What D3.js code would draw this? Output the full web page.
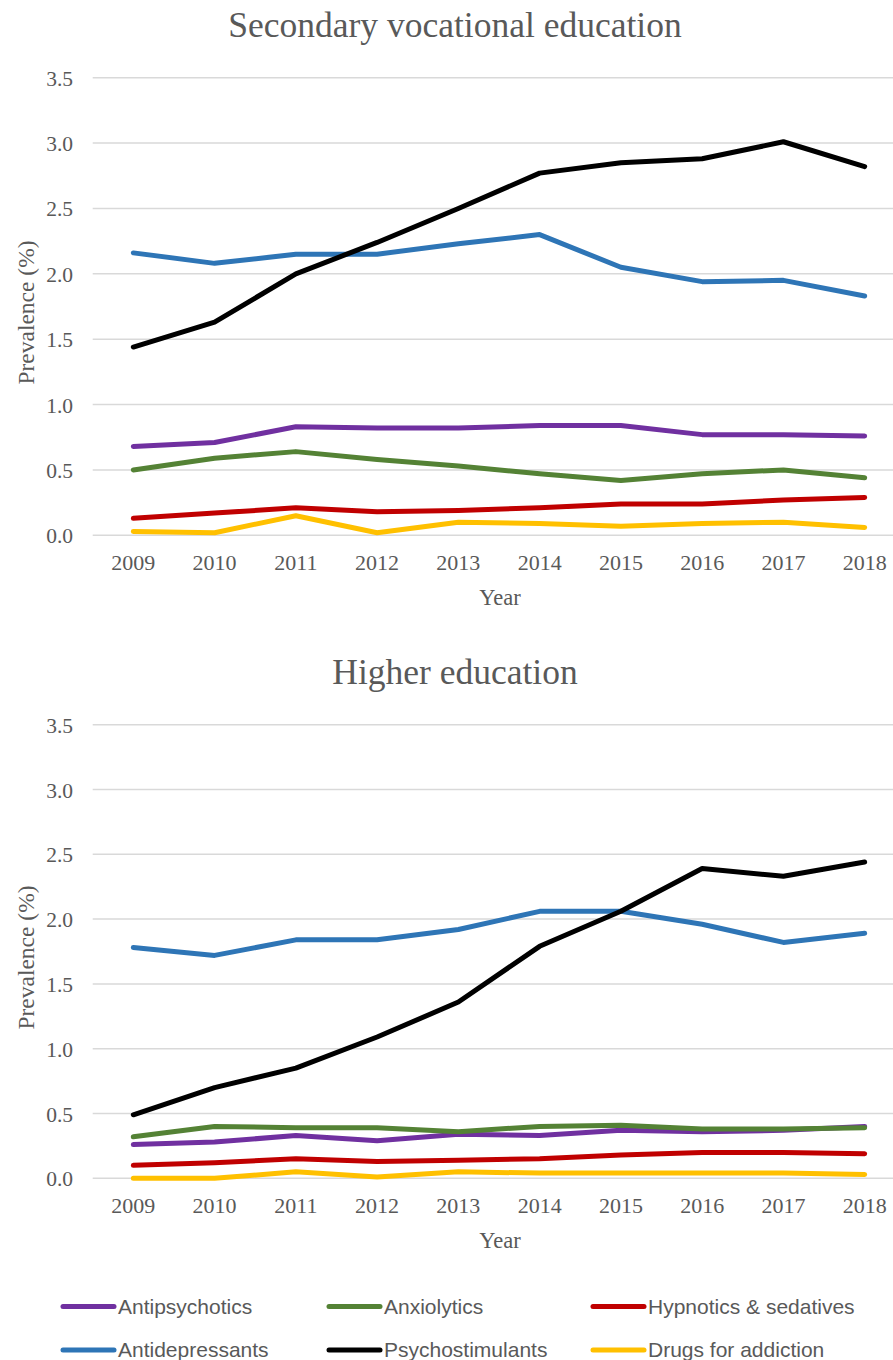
<!DOCTYPE html>
<html>
<head>
<meta charset="utf-8">
<script src="https://cdn.jsdelivr.net/npm/d3@7/dist/d3.min.js"></script>
<style>
  html, body { margin: 0; padding: 0; background: #fff; }
  svg { display: block; }
</style>
</head>
<body>
<svg id="chart" width="893" height="1360"></svg>
<script>
const years = ["2009","2010","2011","2012","2013","2014","2015","2016","2017","2018"];
const yTicks = [0, 0.5, 1.0, 1.5, 2.0, 2.5, 3.0, 3.5];
const seriesNames = ["Antipsychotics","Anxiolytics","Hypnotics & sedatives","Antidepressants","Psychostimulants","Drugs for addiction"];
const seriesColors = ["#7030a0","#548235","#c00000","#2e75b6","#000000","#ffc000"];

// Secondary vocational education
const svAntipsychotics = [0.68,0.71,0.83,0.82,0.82,0.84,0.84,0.77,0.77,0.76];
const svAnxiolytics    = [0.50,0.59,0.64,0.58,0.53,0.47,0.42,0.47,0.50,0.44];
const svHypnotics      = [0.13,0.17,0.21,0.18,0.19,0.21,0.24,0.24,0.27,0.29];
const svAntidepressants= [2.16,2.08,2.15,2.15,2.23,2.30,2.05,1.94,1.95,1.83];
const svPsychostim     = [1.44,1.63,2.00,2.24,2.50,2.77,2.85,2.88,3.01,2.82];
const svAddiction      = [0.03,0.02,0.15,0.02,0.10,0.09,0.07,0.09,0.10,0.06];

// Higher education
const heAntipsychotics = [0.26,0.28,0.33,0.29,0.34,0.33,0.37,0.36,0.37,0.40];
const heAnxiolytics    = [0.32,0.40,0.39,0.39,0.36,0.40,0.41,0.38,0.38,0.39];
const heHypnotics      = [0.10,0.12,0.15,0.13,0.14,0.15,0.18,0.20,0.20,0.19];
const heAntidepressants= [1.78,1.72,1.84,1.84,1.92,2.06,2.06,1.96,1.82,1.89];
const hePsychostim     = [0.49,0.70,0.85,1.09,1.36,1.79,2.06,2.39,2.33,2.44];
const heAddiction      = [0.00,0.00,0.05,0.01,0.05,0.04,0.04,0.04,0.04,0.03];

const panels = [
  { title: "Secondary vocational education", top: 77.7, bottom: 535.3,
    series: [svAntipsychotics, svAnxiolytics, svHypnotics, svAntidepressants, svPsychostim, svAddiction] },
  { title: "Higher education", top: 724.7, bottom: 1178.3,
    series: [heAntipsychotics, heAnxiolytics, heHypnotics, heAntidepressants, hePsychostim, heAddiction] }
];

const svg = d3.select("#chart");
const W = 893;
const plotLeft = 92.7, plotRight = 905.3;
const serif = "'Liberation Serif','Times New Roman',serif";
const textCol = "#595959";

const x = d3.scaleBand().domain(years).range([plotLeft, plotRight]);

panels.forEach(p => {
  const y = d3.scaleLinear().domain([0, 3.5]).range([p.bottom, p.top]);
  const g = svg.append("g");

  // gridlines
  g.selectAll("line.grid").data(yTicks).join("line")
    .attr("x1", plotLeft).attr("x2", W)
    .attr("y1", d => y(d)).attr("y2", d => y(d))
    .attr("stroke", "#d9d9d9").attr("stroke-width", 1.5);

  // y axis labels
  const yAxis = d3.axisLeft(y).tickValues(yTicks).tickFormat(d3.format(".1f")).tickSize(0).tickPadding(0);
  const ya = g.append("g").attr("transform", `translate(73,0)`).call(yAxis);
  ya.select(".domain").remove();
  ya.selectAll("text").attr("font-family", serif).attr("font-size", 21.5).attr("fill", textCol).attr("dy", "0.35em");

  // x axis labels
  const xAxis = d3.axisBottom(x).tickSize(0).tickPadding(0);
  const xa = g.append("g").attr("transform", `translate(0,${p.bottom})`).call(xAxis);
  xa.select(".domain").remove();
  xa.selectAll("text").attr("font-family", serif).attr("font-size", 22).attr("fill", textCol)
    .attr("y", 35).attr("dy", 0);

  // title
  g.append("text").attr("x", 455).attr("y", p.top - 41).attr("text-anchor", "middle")
    .attr("font-family", serif).attr("font-size", 35.5).attr("fill", textCol).text(p.title);

  // axis titles
  g.append("text").attr("x", 500).attr("y", p.bottom + 70).attr("text-anchor", "middle")
    .attr("font-family", serif).attr("font-size", 22.5).attr("fill", textCol).text("Year");
  g.append("text").attr("transform", `translate(34,${(p.top + p.bottom) / 2 + 6}) rotate(-90)`)
    .attr("text-anchor", "middle")
    .attr("font-family", serif).attr("font-size", 23.5).attr("fill", textCol).text("Prevalence (%)");

  // lines
  const line = d3.line().x((d, i) => x(years[i]) + x.bandwidth() / 2).y(d => y(d));
  p.series.forEach((s, si) => {
    g.append("path").datum(s)
      .attr("d", line).attr("fill", "none")
      .attr("stroke", seriesColors[si]).attr("stroke-width", 5)
      .attr("stroke-linejoin", "round").attr("stroke-linecap", "round");
  });
});

// legend
const legCols = [63, 329, 593];
const legRows = [1306.5, 1350];
const leg = svg.append("g");
seriesNames.forEach((name, i) => {
  const cx = legCols[i % 3], cy = legRows[Math.floor(i / 3)];
  leg.append("line").attr("x1", cx).attr("x2", cx + 51).attr("y1", cy).attr("y2", cy)
    .attr("stroke", seriesColors[i]).attr("stroke-width", 5).attr("stroke-linecap", "round");
  leg.append("text").attr("x", cx + 55).attr("y", cy).attr("dy", "0.35em")
    .attr("font-family", "'Liberation Sans', Arial, sans-serif").attr("font-size", 21)
    .attr("fill", textCol).text(name);
});
</script>
</body>
</html>
